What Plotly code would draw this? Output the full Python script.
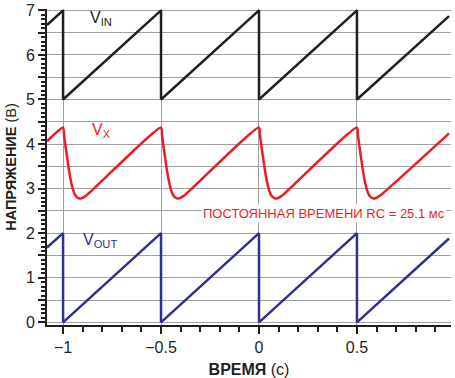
import plotly.graph_objects as go

# ---- data ----
vin_t = [-1.082, -1.0, -1.0, -0.5, -0.5, 0.0, 0.0, 0.5, 0.5, 0.97]
vin_v = [6.67, 7.0, 5.0, 7.0, 5.0, 7.0, 5.0, 7.0, 5.0, 6.87]

vout_t = [-1.082, -1.0, -1.0, -0.5, -0.5, 0.0, 0.0, 0.5, 0.5, 0.97]
vout_v = [1.68, 2.0, 0.0, 2.0, 0.0, 2.0, 0.0, 2.0, 0.0, 1.88]

vx_t = [-1.082,
        -1.0, -0.995, -0.99, -0.98, -0.97, -0.96, -0.95, -0.94, -0.93, -0.92, -0.91, -0.90, -0.88,
        -0.5, -0.495, -0.49, -0.48, -0.47, -0.46, -0.45, -0.44, -0.43, -0.42, -0.41, -0.40, -0.38,
        0.0, 0.005, 0.01, 0.02, 0.03, 0.04, 0.05, 0.06, 0.07, 0.08, 0.09, 0.10, 0.12,
        0.5, 0.505, 0.51, 0.52, 0.53, 0.54, 0.55, 0.56, 0.57, 0.58, 0.59, 0.60, 0.62,
        0.97]
vx_v = [4.06,
        4.37, 4.20, 4.03, 3.72, 3.42, 3.17, 2.99, 2.87, 2.81, 2.785, 2.78, 2.795, 2.85,
        4.37, 4.20, 4.03, 3.72, 3.42, 3.17, 2.99, 2.87, 2.81, 2.785, 2.78, 2.795, 2.85,
        4.37, 4.20, 4.03, 3.72, 3.42, 3.17, 2.99, 2.87, 2.81, 2.785, 2.78, 2.795, 2.85,
        4.37, 4.20, 4.03, 3.72, 3.42, 3.17, 2.99, 2.87, 2.81, 2.785, 2.78, 2.795, 2.85,
        4.24]

x_tickvals = [-1, -0.5, 0, 0.5]
x_ticktext = ["\u22121", "\u22120.5", "0", "0.5"]
y_tickvals = [0, 0.5, 1, 1.5, 2, 2.5, 3, 3.5, 4, 4.5, 5, 5.5, 6, 6.5, 7]
y_ticktext = ["0", " ", "1", " ", "2", " ", "3", " ", "4", " ", "5", " ", "6", " ", "7"]

BLACK = "#231f20"
RED = "#ed1c24"
BLUE = "#2e3192"
FONT = "Liberation Sans, Arial, sans-serif"

fig = go.Figure()
fig.add_trace(go.Scatter(x=vin_t, y=vin_v, mode="lines",
                         line=dict(color=BLACK, width=2.5), showlegend=False))
fig.add_trace(go.Scatter(x=vx_t, y=vx_v, mode="lines",
                         line=dict(color=RED, width=2.5, shape="spline", smoothing=0.6),
                         showlegend=False))
fig.add_trace(go.Scatter(x=vout_t, y=vout_v, mode="lines",
                         line=dict(color=BLUE, width=2.5), showlegend=False))

fig.update_layout(
    width=455, height=378,
    margin=dict(l=47, r=4, t=9, b=53, autoexpand=False),
    paper_bgcolor="white", plot_bgcolor="white",
    font=dict(family=FONT, size=16, color=BLACK),
    xaxis=dict(
        range=[-1.082, 0.98], tickvals=x_tickvals, ticktext=x_ticktext,
        automargin=False,
        showgrid=True, gridcolor="#a0a0a0", gridwidth=1,
        showline=True, linecolor=BLACK, linewidth=2,
        ticks="outside", ticklen=7, tickwidth=2, tickcolor=BLACK,
        minor=dict(dtick=0.1, tick0=0, ticks="outside", ticklen=5, tickwidth=2,
                   tickcolor=BLACK, showgrid=False),
        zeroline=False,
        tickfont=dict(size=16, family=FONT, color=BLACK),
        title=dict(text="<b>ВРЕМЯ</b> (с)", font=dict(size=16, family=FONT, color=BLACK),
                   standoff=10),
    ),
    yaxis=dict(
        range=[-0.06, 7.03], tickvals=y_tickvals, ticktext=y_ticktext,
        automargin=False,
        showgrid=True, gridcolor="#a0a0a0", gridwidth=1,
        showline=True, linecolor=BLACK, linewidth=2,
        ticks="outside", ticklen=7, tickwidth=2, tickcolor=BLACK,
        minor=dict(dtick=0.1, tick0=0, ticks="outside", ticklen=4, tickwidth=2,
                   tickcolor=BLACK, showgrid=False),
        zeroline=False,
        tickfont=dict(size=16, family=FONT, color=BLACK),
        title=dict(text="<b>НАПРЯЖЕНИЕ</b> (В)", font=dict(size=14.5, family=FONT, color=BLACK),
                   standoff=6),
    ),
)

fig.add_annotation(x=-0.872, y=6.82, xanchor="left", yanchor="middle", showarrow=False,
                   text="V<sub>IN</sub>", font=dict(size=16, family=FONT, color=BLACK))
fig.add_annotation(x=-0.862, y=4.31, xanchor="left", yanchor="middle", showarrow=False,
                   text="V<sub>X</sub>", font=dict(size=16, family=FONT, color=RED))
fig.add_annotation(x=-0.91, y=1.84, xanchor="left", yanchor="middle", showarrow=False,
                   text="V<sub>OUT</sub>", font=dict(size=16, family=FONT, color=BLUE))
fig.add_annotation(x=0.962, y=2.45, xanchor="right", yanchor="middle", showarrow=False,
                   text="ПОСТОЯННАЯ ВРЕМЕНИ RC = 25.1 мс", bgcolor="white",
                   font=dict(size=13, family=FONT, color=RED))

fig.write_html("out.html", config={"displayModeBar": False},
               post_script="document.body.style.margin='0';")
